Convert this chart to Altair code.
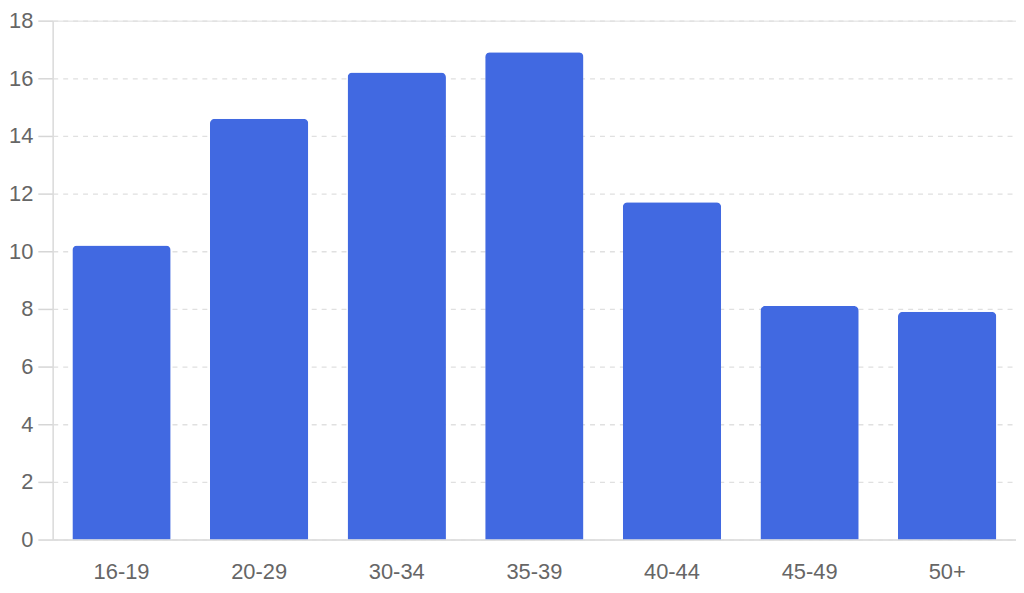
import altair as alt
import pandas as pd

categories = ["16-19", "20-29", "30-34", "35-39", "40-44", "45-49", "50+"]
values = [10.2, 14.6, 16.2, 16.9, 11.7, 8.1, 7.9]
y_ticks = [0, 2, 4, 6, 8, 10, 12, 14, 16, 18]

df = pd.DataFrame({"group": categories, "value": values})

FONT = "Liberation Sans"
FS = 22

chart = alt.Chart(df).mark_bar(
    color="#4169E1",
    cornerRadiusTopLeft=5,
    cornerRadiusTopRight=5,
).encode(
    x=alt.X(
        "group:N",
        sort=categories,
        title=None,
        scale=alt.Scale(paddingInner=0.285, paddingOuter=0.1425),
        axis=alt.Axis(
            labelAngle=0,
            ticks=False,
            labelPadding=22,
            labelFontSize=FS,
            labelColor="#666666",
            labelFont=FONT,
            domainColor="#dddddd",
            domainWidth=1.5,
            grid=False,
        ),
    ),
    y=alt.Y(
        "value:Q",
        title=None,
        scale=alt.Scale(domain=[0, 18], nice=False),
        axis=alt.Axis(
            values=y_ticks,
            tickSize=15,
            tickColor="#d6d6d6",
            tickWidth=1.5,
            labelPadding=5,
            labelFontSize=FS,
            labelColor="#666666",
            labelFont=FONT,
            domainColor="#dddddd",
            domainWidth=1.5,
            grid=True,
            gridColor="#e0e0e0",
            gridDash=[5, 5],
            gridWidth=1.3,
        ),
    ),
).properties(
    width=1014,
    height=576,
    padding=0,
    autosize=alt.AutoSizeParams(type="fit", contains="padding"),
).configure_view(
    stroke=None,
).configure(
    background="white",
)

chart.save("out.html", embed_options={"renderer": "svg", "actions": False})
